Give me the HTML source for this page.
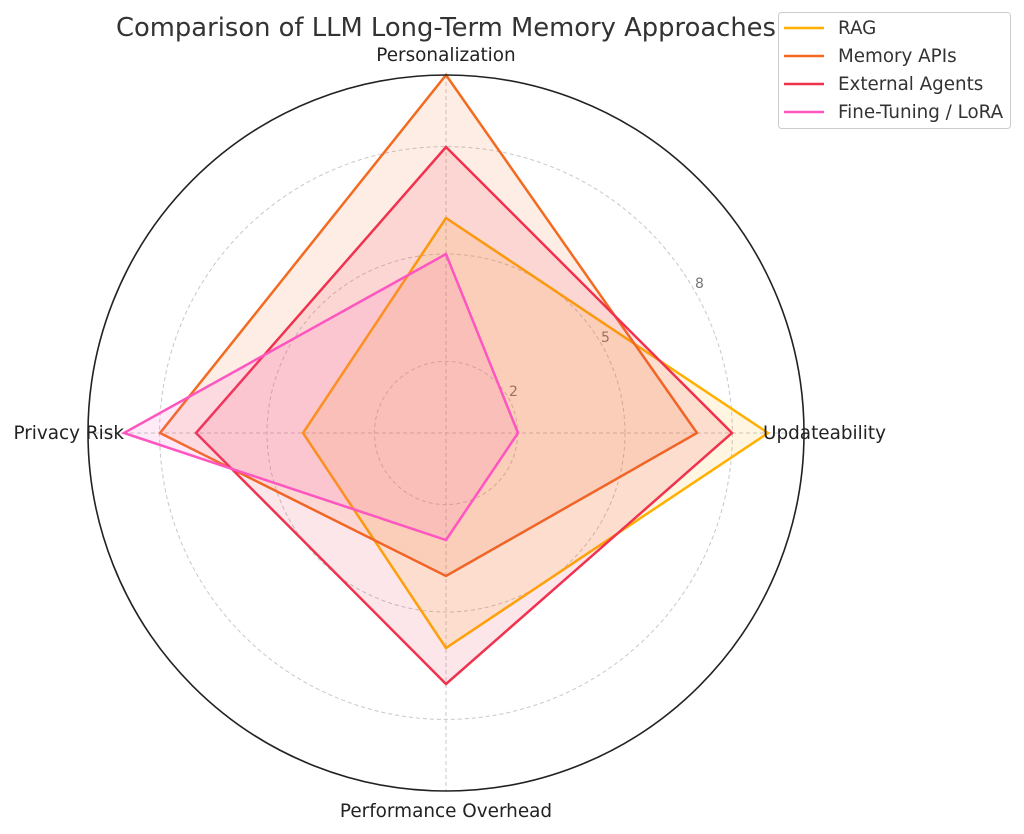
<!DOCTYPE html>
<html><head><meta charset="utf-8"><style>
html,body{margin:0;padding:0;background:#fff;}
svg{display:block;font-family:"DejaVu Sans","Liberation Sans",sans-serif;}
</style></head><body>
<svg width="1024" height="834" viewBox="0 0 1024 834">
<rect width="1024" height="834" fill="#fff"/>
<g fill="none" stroke="#c8c8c8" stroke-width="1" stroke-dasharray="4,3">
<circle cx="446" cy="433" r="71.6"/>
<circle cx="446" cy="433" r="179"/>
<circle cx="446" cy="433" r="286.4"/>
<line x1="446" y1="75" x2="446" y2="791"/>
<line x1="88" y1="433" x2="804" y2="433"/>
</g>
<g font-size="14" fill="#777">
<text x="509" y="396">2</text>
<text x="601" y="342">5</text>
<text x="695" y="288">8</text>
</g>
<polygon points="446,218 768,433 446,648 303,433" fill="#FFB000" fill-opacity="0.12" stroke="#FFB000" stroke-width="2.5"/>
<polygon points="446,75 697,433 446,576 160,433" fill="#F26B21" fill-opacity="0.12" stroke="#F26B21" stroke-width="2.5"/>
<polygon points="446,147 732,433 446,684 196,433" fill="#F0324F" fill-opacity="0.12" stroke="#F0324F" stroke-width="2.5"/>
<polygon points="446,254 518,433 446,540 124,433" fill="#FF55C0" fill-opacity="0.12" stroke="#FF55C0" stroke-width="2.5"/>
<circle cx="446" cy="433" r="358" fill="none" stroke="#222" stroke-width="1.6"/>
<g font-size="18.4" fill="#222">
<text x="446" y="61" text-anchor="middle">Personalization</text>
<text x="763" y="439">Updateability</text>
<text x="446" y="817" text-anchor="middle">Performance Overhead</text>
<text x="124" y="439" text-anchor="end">Privacy Risk</text>
</g>
<text x="446" y="36" text-anchor="middle" font-size="25.8" fill="#333">Comparison of LLM Long-Term Memory Approaches</text>
<rect x="778.5" y="12.5" width="232" height="116" rx="3" fill="#fff" fill-opacity="0.85" stroke="#ccc"/>
<g stroke-width="2.5">
<line x1="784" y1="28" x2="824" y2="28" stroke="#FFB000"/>
<line x1="784" y1="56" x2="824" y2="56" stroke="#F26B21"/>
<line x1="784" y1="84" x2="824" y2="84" stroke="#F0324F"/>
<line x1="784" y1="112" x2="824" y2="112" stroke="#FF55C0"/>
</g>
<g font-size="18.3" fill="#333">
<text x="838" y="34">RAG</text>
<text x="838" y="62">Memory APIs</text>
<text x="838" y="90">External Agents</text>
<text x="838" y="118">Fine-Tuning / LoRA</text>
</g>
</svg>
</body></html>
